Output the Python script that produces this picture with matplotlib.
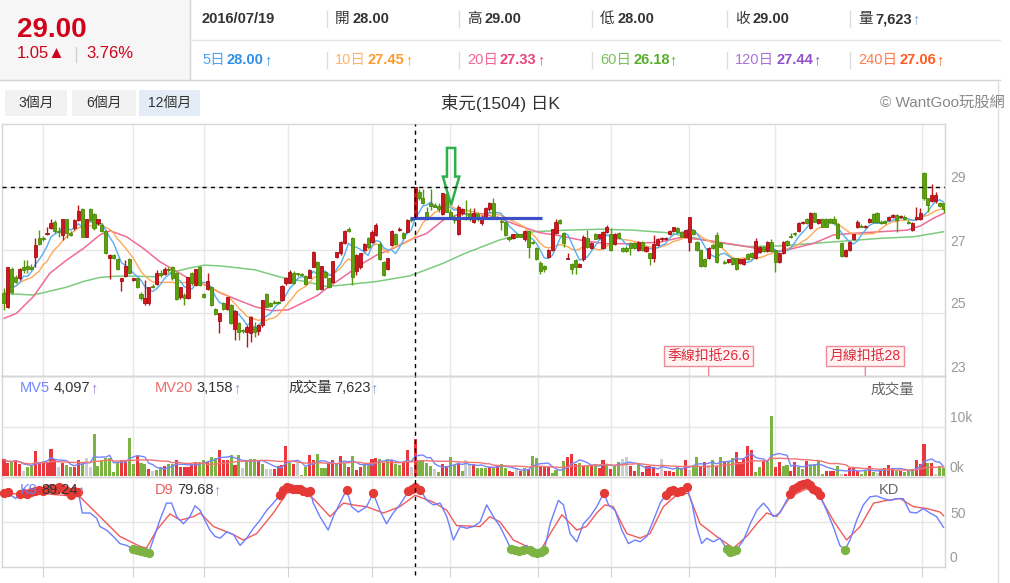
import numpy as np
import pandas as pd
import matplotlib
matplotlib.use("Agg")
import matplotlib.pyplot as plt
from matplotlib.patches import Rectangle, FancyArrow

plt.rcParams['font.family'] = ['Liberation Sans', 'Noto Sans CJK TC', 'DejaVu Sans']

# header texts
title = "東元(1504) 日K"
hover_date = "2016/07/19"
quote_labels = ["開", "高", "低", "收", "量"]
quote_values = ["28.00", "29.00", "28.00", "29.00", "7,623"]
last_price = "29.00"
change = "1.05▲"
change_pct = "3.76%"
ma_labels = ["5日", "10日", "20日", "60日", "120日", "240日"]
ma_values = ["28.00", "27.45", "27.33", "26.18", "27.44", "27.06"]

# daily candles (one year)
opens = [
    25.65, 25.20, 26.39, 26.15, 26.12, 26.47, 26.49, 26.47, 26.79, 27.37,
    27.39, 27.51, 27.71, 27.88, 27.60, 27.48, 27.97, 27.53, 27.69, 27.95,
    28.29, 27.42, 28.29, 28.13, 27.85, 27.79, 27.60, 26.74, 26.84, 26.70,
    26.03, 26.17, 26.70, 26.05, 26.10, 25.60, 25.33, 25.33, 25.87, 25.91,
    26.28, 26.24, 26.40, 26.45, 26.28, 25.50, 25.57, 25.47, 26.26, 25.89,
    26.47, 25.60, 25.75, 25.84, 25.13, 24.76, 25.32, 25.12, 25.25, 24.49,
    24.69, 24.44, 24.41, 24.35, 24.57, 24.44, 24.61, 25.60, 25.33, 25.35,
    25.34, 25.41, 25.94, 25.96, 26.28, 26.24, 26.23, 26.17, 26.12, 26.47,
    26.61, 25.75, 26.30, 26.10, 25.99, 26.79, 26.89, 27.23, 27.66, 27.37,
    26.34, 26.47, 27.00, 27.37, 27.26, 27.48, 27.19, 26.63, 26.39, 27.16,
    27.51, 27.63, 27.53, 27.58, 27.98, 28.00, 28.85, 28.64, 28.22, 28.48,
    28.42, 28.40, 28.14, 28.78, 28.22, 28.06, 27.51, 28.16, 28.06, 28.13,
    27.88, 28.13, 27.85, 28.06, 28.29, 28.50, 28.00, 27.92, 27.90, 27.40,
    27.37, 27.50, 27.50, 27.34, 27.60, 27.24, 27.05, 26.60, 26.49, 26.79,
    27.00, 27.53, 27.95, 27.53, 26.72, 26.55, 26.68, 26.47, 26.70, 27.39,
    27.05, 27.50, 27.37, 27.05, 27.58, 27.51, 27.18, 27.53, 27.07, 27.07,
    27.23, 27.21, 27.00, 27.25, 26.97, 26.89, 26.74, 27.16, 27.34, 27.35,
    27.50, 27.60, 27.71, 27.58, 27.42, 27.26, 27.63, 27.26, 27.00, 26.70,
    26.74, 27.16, 27.48, 27.23, 26.62, 26.63, 26.74, 26.74, 26.58, 26.56,
    26.87, 26.92, 26.74, 26.95, 27.11, 26.98, 27.24, 27.00, 26.63, 26.89,
    27.29, 27.44, 27.53, 27.61, 27.85, 27.97, 27.71, 28.16, 27.85, 27.97,
    27.97, 27.97, 27.97, 27.81, 27.23, 26.81, 27.00, 27.35, 27.72, 27.76,
    27.72, 27.88, 28.13, 28.16, 27.90, 27.92, 27.95, 28.04, 28.11, 28.04,
    28.06, 27.90, 27.63, 27.97, 27.98, 29.43, 28.64, 28.57, 28.54, 28.50,
    28.48,
]
highs = [
    25.78, 26.45, 26.45, 26.20, 26.42, 26.68, 26.68, 26.55, 27.37, 27.63,
    27.45, 27.74, 27.97, 27.95, 27.74, 27.97, 27.97, 27.60, 27.97, 28.43,
    28.32, 27.97, 28.32, 28.16, 27.97, 27.85, 27.65, 26.86, 26.86, 26.74,
    26.12, 26.68, 26.76, 26.12, 26.12, 25.66, 26.05, 25.84, 25.93, 26.37,
    26.35, 26.45, 26.47, 26.50, 26.30, 25.84, 25.62, 26.13, 26.30, 26.39,
    26.50, 25.64, 26.28, 25.86, 25.16, 25.00, 25.35, 25.52, 25.30, 25.08,
    24.72, 24.50, 24.62, 24.90, 24.70, 24.66, 25.40, 25.62, 25.36, 25.40,
    25.38, 25.88, 26.15, 26.37, 26.32, 26.28, 26.26, 26.20, 26.40, 26.98,
    26.64, 26.49, 26.34, 26.12, 26.66, 26.95, 27.30, 27.63, 27.72, 27.42,
    26.88, 26.90, 27.21, 27.40, 27.63, 27.85, 27.24, 26.66, 26.76, 27.63,
    27.55, 27.72, 27.58, 27.97, 28.06, 29.00, 28.93, 28.93, 28.35, 28.93,
    28.48, 28.48, 28.82, 28.80, 28.30, 28.10, 28.43, 28.32, 28.59, 28.32,
    28.32, 28.20, 28.10, 28.35, 28.53, 28.64, 28.08, 27.97, 27.92, 27.44,
    27.52, 27.53, 27.52, 27.63, 27.63, 27.28, 27.08, 26.64, 26.52, 27.02,
    27.68, 27.97, 27.97, 27.56, 26.89, 26.58, 26.72, 26.58, 27.48, 27.63,
    27.26, 27.53, 27.52, 27.60, 27.79, 27.69, 27.53, 27.56, 27.10, 27.12,
    27.26, 27.24, 27.29, 27.28, 27.13, 26.92, 27.48, 27.38, 27.40, 27.42,
    27.65, 27.74, 27.74, 27.60, 27.65, 28.04, 27.66, 27.30, 27.02, 26.74,
    27.10, 27.20, 27.58, 27.26, 26.68, 26.72, 26.76, 26.76, 26.72, 26.74,
    26.89, 26.95, 27.37, 27.12, 27.13, 27.28, 27.35, 27.02, 26.92, 27.28,
    27.33, 27.55, 27.58, 27.88, 27.92, 28.00, 28.20, 28.20, 27.99, 28.00,
    28.00, 28.00, 28.08, 27.85, 27.26, 27.02, 27.29, 27.52, 27.95, 27.82,
    27.80, 28.00, 28.16, 28.20, 27.95, 27.95, 28.08, 28.13, 28.15, 28.10,
    28.10, 27.95, 27.88, 28.38, 28.32, 29.49, 28.66, 29.08, 28.85, 28.53,
    28.50,
]
lows = [
    25.10, 25.15, 25.60, 25.95, 26.05, 26.26, 26.26, 26.35, 26.47, 27.15,
    27.30, 27.48, 27.68, 27.55, 27.40, 27.32, 27.37, 27.44, 27.65, 27.92,
    27.42, 27.40, 27.92, 27.65, 27.80, 27.58, 26.88, 26.07, 26.70, 26.35,
    25.71, 26.15, 26.25, 26.00, 25.80, 25.41, 25.25, 25.25, 25.78, 25.88,
    26.15, 26.20, 26.30, 26.05, 25.40, 25.45, 25.25, 25.45, 25.90, 25.85,
    25.85, 25.48, 25.72, 25.22, 24.95, 24.35, 25.10, 25.10, 24.64, 24.14,
    24.14, 24.35, 23.93, 24.09, 24.25, 24.30, 24.55, 25.18, 25.20, 25.28,
    25.30, 25.38, 25.90, 25.94, 25.92, 26.18, 26.18, 25.88, 26.10, 26.45,
    25.72, 25.72, 26.10, 25.80, 25.95, 26.76, 26.85, 27.20, 27.58, 25.90,
    26.20, 26.40, 26.97, 27.05, 27.22, 27.45, 26.68, 26.18, 26.35, 27.12,
    27.15, 27.60, 27.35, 27.55, 27.90, 28.00, 28.59, 28.46, 27.95, 28.27,
    28.35, 28.22, 28.10, 28.20, 28.04, 27.85, 27.48, 28.10, 27.95, 27.92,
    27.85, 27.92, 27.80, 28.02, 28.25, 28.00, 27.97, 27.63, 27.45, 27.30,
    27.34, 27.40, 27.40, 27.30, 26.74, 27.18, 26.68, 26.24, 26.31, 26.75,
    26.97, 27.50, 27.82, 27.11, 26.70, 26.24, 26.24, 26.45, 26.66, 27.05,
    27.02, 27.34, 27.34, 27.02, 27.55, 26.97, 27.15, 27.34, 26.94, 26.93,
    26.84, 27.02, 26.97, 26.97, 26.95, 26.52, 26.63, 27.12, 27.30, 27.32,
    27.48, 27.58, 27.55, 27.40, 27.40, 26.97, 27.48, 26.97, 26.45, 26.45,
    26.70, 27.02, 26.58, 27.08, 26.55, 26.58, 26.52, 26.37, 26.55, 26.52,
    26.68, 26.76, 26.72, 26.92, 26.95, 26.95, 26.95, 26.31, 26.58, 26.86,
    27.13, 27.38, 27.45, 27.58, 27.82, 27.82, 27.68, 27.88, 27.82, 27.72,
    27.72, 27.85, 27.82, 27.35, 26.79, 26.78, 26.97, 27.32, 27.70, 27.72,
    27.70, 27.85, 27.85, 27.85, 27.82, 27.82, 27.92, 28.00, 27.58, 28.00,
    27.95, 27.82, 27.60, 27.95, 27.95, 28.60, 28.22, 28.52, 28.50, 28.35,
    28.16,
]
closes = [
    25.31, 26.45, 25.66, 25.99, 26.39, 26.37, 26.39, 26.39, 27.15, 27.19,
    27.35, 27.53, 27.85, 27.60, 27.58, 27.97, 27.53, 27.48, 27.95, 28.24,
    27.42, 27.97, 27.95, 27.69, 27.97, 27.61, 26.92, 26.84, 26.74, 26.39,
    26.10, 26.49, 26.28, 26.10, 25.84, 25.49, 25.48, 25.81, 25.81, 26.26,
    26.21, 26.39, 26.37, 26.10, 25.44, 25.81, 25.47, 26.13, 25.94, 26.39,
    25.89, 25.50, 26.01, 25.24, 24.97, 24.99, 25.12, 25.50, 24.67, 25.06,
    24.41, 24.42, 24.57, 24.88, 24.41, 24.63, 25.40, 25.20, 25.22, 25.31,
    25.33, 25.86, 26.12, 26.30, 25.94, 26.23, 26.20, 25.91, 26.37, 26.93,
    25.75, 26.49, 26.13, 25.84, 26.64, 26.93, 27.26, 27.61, 27.61, 26.13,
    26.85, 26.89, 27.18, 27.08, 27.58, 27.78, 26.70, 26.21, 26.74, 27.59,
    27.18, 27.68, 27.37, 27.95, 27.95, 29.00, 28.64, 28.48, 28.06, 28.40,
    28.38, 28.29, 28.82, 28.22, 28.06, 27.95, 28.35, 28.29, 27.97, 27.97,
    28.16, 27.97, 28.06, 28.32, 28.50, 28.04, 28.04, 27.90, 27.48, 27.34,
    27.50, 27.42, 27.42, 27.60, 27.08, 27.23, 26.70, 26.34, 26.39, 27.00,
    27.68, 27.89, 27.85, 27.23, 26.76, 26.39, 26.47, 26.56, 27.42, 27.08,
    27.23, 27.36, 27.50, 27.58, 27.72, 27.00, 27.50, 27.37, 26.97, 26.97,
    27.05, 27.05, 27.26, 27.00, 27.11, 26.74, 27.18, 27.34, 27.37, 27.39,
    27.60, 27.72, 27.58, 27.42, 27.63, 28.04, 27.51, 27.00, 26.49, 26.49,
    27.07, 27.05, 26.63, 27.11, 26.60, 26.70, 26.56, 26.39, 26.70, 26.70,
    26.70, 26.79, 27.30, 27.11, 26.98, 27.24, 26.98, 26.63, 26.89, 27.24,
    27.16, 27.40, 27.50, 27.85, 27.90, 27.85, 28.16, 27.90, 27.97, 27.74,
    27.74, 27.90, 27.85, 27.37, 26.81, 27.00, 27.26, 27.50, 27.88, 27.74,
    27.77, 27.97, 27.88, 27.88, 27.85, 27.85, 28.06, 28.11, 27.95, 28.08,
    27.97, 27.85, 27.85, 28.04, 28.16, 28.64, 28.43, 28.75, 28.75, 28.40,
    28.29,
]

# volume in thousands of lots, direction r=up g=down n=flat
volumes_k = [
    3.4, 2.6, 2.9, 3.3, 2.4, 1.1, 1.9, 2.0, 5.1, 2.7,
    2.7, 2.7, 5.5, 3.4, 1.9, 2.7, 2.2, 1.8, 1.9, 3.3,
    2.9, 3.6, 1.9, 8.6, 2.0, 3.3, 3.6, 3.6, 0.9, 2.7,
    3.3, 3.3, 7.7, 2.4, 4.1, 2.7, 2.4, 1.4, 1.1, 1.2,
    1.8, 2.0, 2.4, 2.4, 3.3, 1.9, 1.9, 1.9, 2.4, 2.9,
    2.9, 3.3, 2.9, 3.8, 3.6, 5.4, 3.3, 3.3, 4.3, 2.2,
    4.3, 1.7, 3.3, 3.4, 3.4, 3.3, 2.4, 1.5, 1.5, 1.4,
    2.0, 2.2, 6.1, 2.6, 2.4, 2.7, 0.2, 1.9, 4.3, 3.3,
    4.5, 1.6, 1.6, 2.7, 3.3, 2.6, 4.1, 2.6, 1.9, 4.1,
    1.2, 1.9, 2.4, 2.2, 3.4, 3.6, 3.4, 2.6, 3.4, 3.3,
    2.4, 2.2, 2.9, 5.3, 1.9, 7.623, 3.3, 3.3, 2.6, 2.0,
    1.4, 0.9, 2.4, 2.0, 3.8, 2.2, 2.6, 1.1, 3.3, 2.4,
    2.2, 1.7, 1.7, 1.7, 1.8, 1.9, 2.2,
    2.4, 1.7, 1.1, 0.9, 1.4, 1.1, 1.6, 1.4, 4.1, 3.6,
    1.9, 1.8, 1.9, 0.7, 1.2, 0.1, 3.1, 3.8, 4.5, 2.4,
    2.6, 2.0, 2.1, 2.0, 2.4, 1.6, 3.3, 2.4, 1.4, 2.0,
    2.9, 3.4, 3.8, 2.0, 1.1, 2.4, 0.8, 2.0, 2.0, 1.6,
    0.7, 3.4, 1.1, 1.1, 0.8, 1.9, 1.7, 3.3, 1.2, 2.2,
    3.8, 2.0, 2.9, 2.2, 3.3, 2.0, 3.8, 3.1, 2.8, 3.6,
    4.9, 2.9, 3.6, 6.1, 5.4, 0.9, 1.9, 3.1, 2.9, 12.2,
    1.9, 2.9, 2.0, 2.2, 1.1, 2.9, 1.8, 1.4, 3.1, 2.2,
    2.4, 3.1, 0.4, 1.1, 1.1, 1.1, 2.0, 0.4, 0.5, 1.6,
    1.6, 1.1, 0.4, 1.2, 2.0, 0.9, 0.7, 1.1, 1.6, 2.2,
    1.6, 1.1, 1.1, 0.9, 1.1, 1.4, 3.3, 2.4, 6.5, 2.6,
    2.6, 0.5, 2.0, 1.7,
]
vol_dir = ("rrgrrnggrr" "rrrrnrggrr" "gnnggggggg" "rrggrggrng" "grggrrrrrr"
           "ggrggrrrgr" "gngggrgnnr" "rrrgrnggrr" "gggrrgrgrg" "rrggrrgrgr"
           "ggrrnrgggg" "ngrrggrgnn" "rgggrgr"
           "ggrrnrgrgg" "rrrggngrrr" "grgrgrrgrg" "gnnrrgrrrr" "rnrrrggrng"
           "grrngrgrgg" "rrrrrggrgg" "rrggrrggrg" "gggrrrgnrr" "rrggrgnrrr"
           "rgrgggrrrg" "rngg")

# 20-day and 60-day averages as drawn (day index, price)
ma20_day = [0, 3.2, 7.5, 11.7, 16.0, 20.3, 24.5, 27.1, 31.3, 35.6, 39.8, 47.1, 51.3,
            55.6, 59.8, 64.1, 68.4, 72.6, 76.9, 80.0, 82.4, 86.7, 90.9, 95.2, 99.4,
            103.7, 108.0, 112.2, 116.5, 122.4, 126.6, 130.9, 136.9, 142.0, 147.9,
            153.9, 160.7, 167.5, 173.0, 180.0, 189.7, 196.5, 200.0, 206.8, 211.9,
            217.0, 223.8, 230.6, 234.0, 237.4, 240]
ma20_val = [24.83, 24.99, 25.52, 26.26, 26.68, 27.05, 27.48, 27.61, 27.42, 27.05, 26.63,
            26.10, 25.89, 25.62, 25.41, 25.20, 25.07, 25.10, 25.36, 25.55, 25.78, 26.15,
            26.52, 26.84, 27.05, 27.32, 27.53, 27.95, 28.15, 28.15, 28.00, 27.80, 27.55,
            27.45, 27.30, 27.20, 27.20, 27.25, 27.40, 27.30, 27.11, 26.95, 27.00, 27.21,
            27.48, 27.53, 27.58, 27.63, 27.76, 28.01, 28.16]
ma60_day = [0, 7.5, 16.0, 20.3, 24.5, 28.8, 33.0, 38.6, 47.1, 51.3, 55.6, 64.1, 70.9,
            76.9, 82.4, 86.7, 95.2, 103.7, 112.2, 117.3, 126.6, 135.2, 143.7, 152.2,
            160.7, 169.2, 175.0, 181.2, 189.7, 198.2, 206.8, 215.3, 223.8, 232.3, 240]
ma60_val = [25.62, 25.57, 25.82, 26.00, 26.13, 26.17, 26.17, 26.15, 26.42, 26.52, 26.49,
            26.37, 26.13, 26.00, 25.84, 25.89, 26.00, 26.18, 26.58, 26.87, 27.32, 27.58,
            27.63, 27.66, 27.63, 27.55, 27.42, 27.26, 27.11, 27.13, 27.21, 27.29, 27.37,
            27.42, 27.58]

# KD(9) as drawn (day index, value)
k_day = [0, 1, 2, 3, 4, 5, 6, 7, 8, 9, 10, 11, 12, 13, 14, 15, 16, 17, 18, 19, 20,
         22.0, 23.7, 24.5, 26.2, 27.9, 29.6, 31.3, 33.0, 34.0, 35.0, 36.0, 37.0, 38.1,
         39.8, 41.5, 42.8, 44.1, 45.8, 47.5, 48.8, 50.1, 51.3, 52.6, 53.9, 55.2, 56.9,
         58.6, 60.3, 62.0, 63.7, 65.4, 67.1, 68.8, 70.5, 71.3, 72.2, 73.0, 73.9, 74.8,
         75.6, 76.5, 77.3, 78.2, 79.0, 80.7, 82.8, 84.1, 85.8, 87.5, 88.8, 90.5, 92.6,
         94.3, 96.0, 97.7, 99.4, 101.1, 103.3, 104.2, 105, 106.3, 108.0, 109.7, 111.4,
         113.1, 114.8, 116.5, 118.2, 119.9, 121.6, 123.3, 125.0, 126.7, 128.4, 129.5,
         130.5, 131.5, 132.5, 133.5, 134.4, 135.2, 136.2, 137.2, 138.0, 139.5, 141.6,
         142.9, 144.6, 146.3, 148.0, 149.7, 151.4, 152.7, 153.3, 154.4, 156.1, 157.8,
         159.5, 161.2, 162.5, 164.2, 165.9, 167.6, 169.0, 170.0, 171.0, 172.0, 173.0,
         174.4, 175.7, 176.9, 178.2, 179.5, 181.2, 182.9, 184.6, 185.4, 186.3, 187.1,
         188.9, 190.6, 192.3, 194.0, 195.2, 196.5, 198.2, 199.9, 200.8, 201.6, 202.5,
         203.3, 204.2, 205.0, 205.9, 206.7, 207.6, 208.4, 210.1, 211.8, 213.5, 214.8,
         216.1, 217.8, 219.5, 221.2, 222.9, 224.6, 226.3, 228.0, 229.7, 231.4, 233.1,
         234.8, 236.5, 238.2, 240]
k_val = [82, 83, 79, 76, 81, 82, 81, 83, 85, 86, 84, 87, 88, 86, 89, 87, 84, 80, 84, 83, 60,
         60, 54, 45, 41, 34, 26, 24, 20, 19, 18, 17, 16, 30,
         52, 71, 71, 56, 48, 56, 68, 63, 52, 41, 34, 32, 39,
         36, 24, 32, 43, 52, 63, 71, 80, 86, 89, 88, 87, 87,
         87, 84, 83, 85, 71, 56, 41, 56, 71, 86, 67, 61, 67,
         82, 63, 48, 60, 69, 84, 87, 89.24, 86, 74, 69, 71,
         56, 30, 45, 43, 45, 50, 69, 56, 45, 30, 20,
         19, 18, 19, 24, 19, 17, 16, 17, 19, 48, 74,
         69, 37, 28, 48, 56, 67, 78, 82, 69, 63, 41,
         26, 30, 28, 34, 52, 71, 80, 84, 86, 83, 85,
         89, 71, 45, 26, 32, 28, 32, 20, 17, 18, 19,
         30, 48, 63, 71, 65, 56, 60, 74, 81, 87, 89,
         91, 92, 93, 91, 87, 84, 80, 63, 45, 24, 19,
         30, 52, 69, 78, 79, 76, 74, 76, 76, 61, 60,
         65, 60, 56, 44]
d_day = [0, 9.2, 19.4, 24.5, 29.6, 34.7, 36.4, 39.0, 42.4, 45.0, 48.4, 50.1, 53.5, 58.6,
         61.1, 64.5, 68.8, 72.2, 75.6, 79.0, 83.3, 86.7, 89.2, 92.6, 96.9, 101.1, 105,
         109.7, 113.1, 115.6, 121.6, 124.1, 126.7, 130.1, 133.5, 136.9, 139.5, 142.5,
         146.3, 148.8, 151.4, 153.5, 155.6, 159.1, 162.5, 165.0, 168.4, 171.8, 174.8,
         177.8, 182.0, 186.3, 189.7, 192.3, 194.8, 197.4, 200.8, 205.0, 208.4, 211.8,
         215.2, 218.7, 222.1, 225.5, 228.9, 232.3, 235.7, 239.1, 240]
d_val = [81, 82, 78, 56, 34, 23, 21, 41, 59, 52, 56, 60, 45, 36,
         30, 37, 60, 82, 86, 76, 56, 71, 69, 67, 60, 67, 79.68,
         72, 63, 46, 45, 56, 50, 30, 23, 17, 37, 58,
         41, 45, 60, 69, 67, 37, 32, 37, 67, 80, 82,
         48, 34, 21, 34, 48, 60, 56, 78, 87, 78, 52,
         30, 45, 71, 74, 76, 67, 65, 61, 57]

hover_day = 105
support_price, support_from, support_to = 28.0, 103.7, 137.4
month_days = [10, 33, 51, 72.5, 94, 114, 136.5, 155, 175, 197, 234.5]

assert len(opens) == len(highs) == len(lows) == len(closes) == len(volumes_k) == len(vol_dir)
assert len(k_day) == len(k_val) and len(d_day) == len(d_val)

n = len(closes)
days = np.arange(n)
o, h, l, c = (np.array(a) for a in (opens, highs, lows, closes))
vol = np.array(volumes_k)
ma5 = pd.Series(c).rolling(5, min_periods=1).mean()
ma10 = pd.Series(c).rolling(10, min_periods=1).mean()
mv5 = pd.Series(vol).rolling(5, min_periods=1).mean()
mv20 = pd.Series(vol).rolling(20, min_periods=1).mean()

W, H = 1010, 583
fig = plt.figure(figsize=(W / 100, H / 100), dpi=100)
renderer = fig.canvas.get_renderer()


def box(x0, y0, x1, y1):
    return fig.add_axes([x0 / W, 1 - y1 / H, (x1 - x0) / W, (y1 - y0) / H])


bg = box(0, 0, W, H)
bg.set_xlim(0, W)
bg.set_ylim(H, 0)
bg.axis("off")
bg.set_zorder(5)


def runs(x, y, parts, size=10.5):
    for text, color, weight, gap in parts:
        t = bg.text(x, y, text, color=color, fontsize=size, fontweight=weight,
                    ha="left", va="center", zorder=10)
        x += t.get_window_extent(renderer).width + gap


# ---- header
red = "#d0021b"
bg.add_patch(Rectangle((0, 0), 190, 80, fc="#f6f6f6", ec="none"))
bg.plot([190, 190], [0, 80], color="#d4d4d4", lw=1)
bg.plot([0, 1000], [80, 80], color="#d4d4d4", lw=1)
bg.plot([190, 1000], [40, 40], color="#e6e6e6", lw=1)
bg.text(17, 30, last_price, fontsize=20, fontweight="bold", color=red, va="center")
bg.text(17, 54, change, fontsize=12, color=red, va="center")
bg.plot([76, 76], [47, 62], color="#d0d0d0", lw=1)
bg.text(86, 54, change_pct, fontsize=12, color=red, va="center")

runs(202, 19, [(hover_date, "#333333", "bold", 0)])
col_x = [202, 335, 467, 600, 735, 858]
for lab, val, x in zip(quote_labels, quote_values, col_x[1:]):
    bg.plot([x - 8, x - 8], [11, 27], color="#dddddd", lw=1)
    runs(x, 19, [(lab, "#333333", "normal", 3), (val, "#333333", "bold", 0)])
runs(col_x[-1], 19, [("量", "#ffffff00", "normal", 3), ("7,623", "#ffffff00", "bold", 0),
                     ("↑", "#7a9ad8", "normal", 0)])

ma_colors = [("#4da3f7", "#2f8ee8"), ("#ffb26b", "#ff9a2e"), ("#f2679a", "#e8437f"),
             ("#7cc05a", "#5aad2e"), ("#a974d8", "#9150cc"), ("#ff7a4d", "#ff5a1f")]
for lab, val, x, (lc, vc) in zip(ma_labels, ma_values, col_x, ma_colors):
    if x > 202:
        bg.plot([x - 8, x - 8], [52, 68], color="#dddddd", lw=1)
    runs(x, 60, [(lab, lc, "normal", 2), (val, vc, "bold", 0), ("↑", vc, "normal", 0)])

# ---- range buttons, title
for (x0, x1), lab, fc in zip([(5, 67), (72, 136), (139, 200)], ["3個月", "6個月", "12個月"],
                             ["#f2f2f2", "#f2f2f2", "#e4edf7"]):
    bg.add_patch(Rectangle((x0, 90), x1 - x0, 26, fc=fc, ec="none"))
    bg.text((x0 + x1) / 2, 103, lab, fontsize=10, color="#333333", ha="center", va="center")
bg.text(500, 103, title, fontsize=12.5, color="#333333", ha="center", va="center")
bg.text(1005, 103, "© WantGoo玩股網", fontsize=11, color="#888888", ha="right", va="center")
bg.plot([998, 998], [80, H], color="#dddddd", lw=1)

# ---- panels
axp = box(2, 124, 945, 376)
axv = box(2, 376, 945, 477)
axk = box(2, 477, 945, 567)
for ax in (axp, axv, axk):
    ax.set_xlim(-0.51, 240.36)
    ax.set_xticks([])
    ax.set_yticks([])
    ax.patch.set_alpha(0)
    for s in ax.spines.values():
        s.set_color("#d6d6d6")
        s.set_linewidth(1)
    for d in month_days:
        ax.axvline(d, color="#e8e8e8", lw=1, zorder=0)
    ax.axvline(hover_day, color="black", lw=1, ls=(0, (3, 3)), zorder=9)
axp.spines["bottom"].set_color("#b5b5b5")
axk.set_xticks(month_days)
axk.tick_params(axis="x", length=7, color="#d0d0d0", labelbottom=False)


def right_labels(ax, vals, labels):
    for v, s in zip(vals, labels):
        ax.annotate(s, xy=(1, v), xycoords=("axes fraction", "data"), xytext=(5, 8.5),
                    textcoords="offset pixels", ha="left", va="center", fontsize=10,
                    color="#9a9a9a", annotation_clip=False)


# price panel
axp.set_ylim(23, 31)
for v in (25, 27, 29):
    axp.axhline(v, color="#e6e6e6", lw=1, zorder=0)
right_labels(axp, [29, 27, 25, 23], ["29", "27", "25", "23"])
axp.plot(ma60_day, ma60_val, color="#7dcb7d", lw=1.1, zorder=2)
axp.plot(ma20_day, ma20_val, color="#f06b96", lw=1.1, zorder=2)
axp.plot(days, ma10, color="#ffa858", lw=1, zorder=2)
axp.plot(days, ma5, color="#56aef0", lw=1, zorder=2)
up = c > o
body_lo = np.minimum(o, c)
body_h = np.maximum(np.abs(c - o), 0.03)
axp.vlines(days, l, h, colors=np.where(up, "#b8141a", "#55980a"), lw=1, zorder=3)
axp.bar(days, body_h, bottom=body_lo, width=0.8, color=np.where(up, "#d1161d", "#5ea10e"),
        edgecolor=np.where(up, "#a30f14", "#4a8806"), linewidth=0.6, zorder=4)
axp.axhline(closes[hover_day], color="black", lw=1, ls=(0, (3, 3)), zorder=9)
axp.hlines(support_price, support_from, support_to, color="#3d4fc6", lw=2.3, zorder=6)
axp.add_patch(FancyArrow(114.2, 30.24, 0, -1.81, width=2.1, head_width=4.2, head_length=0.9,
                         length_includes_head=True, fill=False, ec="#2eb04a", lw=1.8, zorder=7))
for back, lab in ((60, "季線扣抵26.6"), (20, "月線扣抵28")):
    axp.annotate(lab, xy=(n - 1 - back, 23), xytext=(0, 20), textcoords="offset pixels",
                 ha="center", va="center", fontsize=10, color="#e0283a",
                 bbox=dict(boxstyle="square,pad=0.25", fc="#fff3f3", ec="#ef8a94", lw=1),
                 arrowprops=dict(arrowstyle="-", color="#ef8a94", lw=1, shrinkA=0, shrinkB=0),
                 annotation_clip=False, zorder=8)

# volume panel
axv.set_ylim(-0.2, 20.4)
axv.axhline(10, color="#e6e6e6", lw=1, zorder=0)
right_labels(axv, [10, 0], ["10k", "0k"])
vcol = [{"r": "#e8383d", "g": "#7cb342", "n": "#c9ced3"}[ch] for ch in vol_dir]
axv.bar(days, vol, width=0.78, color=vcol, zorder=3)
axv.plot(days, mv5, color="#7486ff", lw=1, zorder=4)
axv.plot(days, mv20, color="#f27474", lw=1, zorder=4)
runs(20, 388, [("MV5", "#7486ff", "normal", 3), ("4,097", "#333333", "normal", 0), ("↑", "#9a78d0", "normal", 0)])
runs(155, 388, [("MV20", "#f06a6a", "normal", 3), ("3,158", "#333333", "normal", 0), ("↑", "#7a9ad8", "normal", 0)])
runs(288, 388, [("成交量", "#333333", "normal", 2), ("7,623", "#333333", "normal", 0), ("↑", "#7a9ad8", "normal", 0)])
bg.text(870, 390, "成交量", fontsize=10.5, color="#666666", va="center", zorder=10)

# KD panel
axk.set_ylim(0, 100)
axk.axhline(50, color="#e6e6e6", lw=1, zorder=0)
right_labels(axk, [50, 0], ["50", "0"])
axk.plot(d_day, d_val, color="#f25a5a", lw=1, zorder=3)
axk.plot(k_day, k_val, color="#6b7fff", lw=1, zorder=3)
kd, kv = np.array(k_day), np.array(k_val)
axk.scatter(kd[kv >= 80], kv[kv >= 80], s=32, color="#e53935", zorder=5, clip_on=False)
axk.scatter(kd[kv <= 20], kv[kv <= 20], s=32, color="#7cb342", zorder=5, clip_on=False)
axk.axvline(hover_day, ymin=-0.09, ymax=0, color="black", lw=1, ls=(0, (3, 3)), clip_on=False)
runs(20, 490, [("K9", "#6b7fff", "normal", 3), ("89.24", "#333333", "normal", 0), ("↑", "#7a9ad8", "normal", 0)])
runs(155, 490, [("D9", "#f05a5a", "normal", 3), ("79.68", "#333333", "normal", 0), ("↑", "#7a9ad8", "normal", 0)])
bg.text(879, 490, "KD", fontsize=10.5, color="#666666", va="center", zorder=10)

fig.savefig("out.png", dpi=100)
